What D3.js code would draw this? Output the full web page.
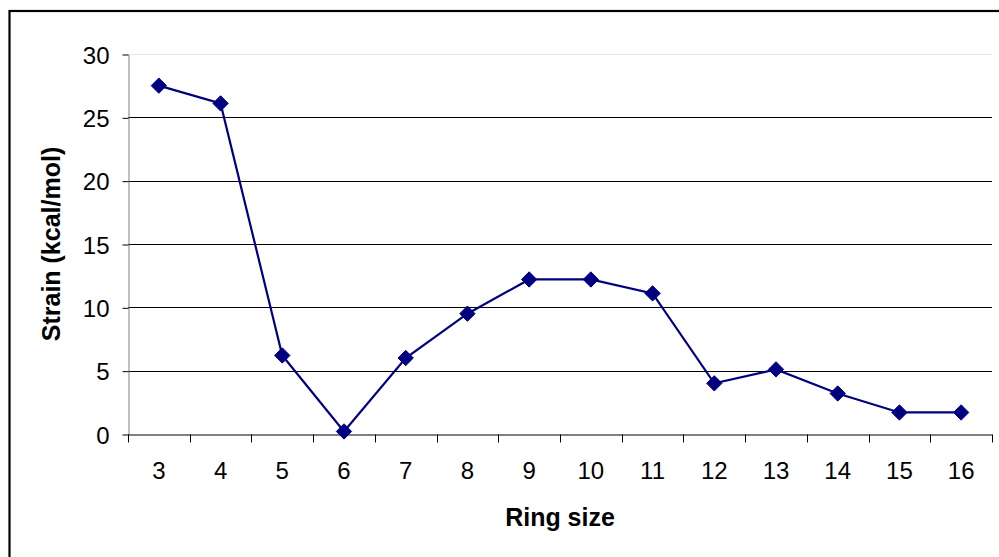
<!DOCTYPE html>
<html>
<head>
<meta charset="utf-8">
<script src="https://cdn.jsdelivr.net/npm/d3@7"></script>
<style>
  html, body { margin: 0; padding: 0; background: #fff; }
  svg { display: block; }
  text { font-family: "Liberation Sans", Arial, sans-serif; fill: #000; }
</style>
</head>
<body>
<svg id="chart" width="999" height="557"></svg>
<script>
const ringSizes = ["3","4","5","6","7","8","9","10","11","12","13","14","15","16"];
const strainValues = [27.5, 26.1, 6.2, 0.2, 6.0, 9.5, 12.2, 12.2, 11.1, 4.0, 5.1, 3.2, 1.7, 1.7];
const yTickValues = [0, 5, 10, 15, 20, 25, 30];
const xTitle = "Ring size";
const yTitle = "Strain (kcal/mol)";

const svg = d3.select("#chart");
const W = 999, H = 557;
const plot = { left: 128, right: 992, top: 54, bottom: 434 };

svg.append("rect").attr("x", 0).attr("y", 0).attr("width", W).attr("height", H).attr("fill", "#fff");
// outer chart border
svg.append("rect").attr("x", 9.5).attr("y", 11).attr("width", 1000).attr("height", 600)
  .attr("fill", "none").attr("stroke", "#000").attr("stroke-width", 2.2);

const x = d3.scaleBand().domain(ringSizes).range([plot.left, plot.right]).padding(0);
const y = d3.scaleLinear().domain([0, 30]).range([plot.bottom, plot.top]);

// gridlines
svg.append("g").selectAll("line").data(yTickValues.filter(v => v > 0)).join("line")
  .attr("x1", plot.left).attr("x2", plot.right)
  .attr("y1", d => Math.round(y(d)) + 0.5).attr("y2", d => Math.round(y(d)) + 0.5)
  .attr("stroke", d => d === 30 ? "#e6e6e6" : "#000").attr("stroke-width", 1);

// y axis
const yAxis = svg.append("g").attr("transform", `translate(${plot.left + 0.5},0.5)`)
  .call(d3.axisLeft(y).tickValues(yTickValues).tickSize(6).tickPadding(13).tickSizeOuter(0));
yAxis.select(".domain").attr("stroke", "#808080").attr("stroke-width", 1);
yAxis.selectAll(".tick line").attr("stroke", "#000");
yAxis.selectAll(".tick text").attr("font-size", 24).attr("font-family", "Liberation Sans, Arial, sans-serif").attr("fill", "#000").attr("dy", "0.36em");

// x axis
const xAxis = svg.append("g").attr("transform", `translate(0,${plot.bottom + 0.5})`)
  .call(d3.axisBottom(x).tickSize(0).tickPadding(27).tickSizeOuter(0));
xAxis.select(".domain").attr("stroke", "#000").attr("stroke-width", 1);
xAxis.selectAll(".tick text").attr("font-size", 24).attr("font-family", "Liberation Sans, Arial, sans-serif").attr("fill", "#000").attr("dy", "0.71em");
const bounds = ringSizes.map(c => x(c)).concat([x.range()[1]]);
xAxis.append("g").selectAll("line").data(bounds).join("line")
  .attr("x1", d => Math.round(d) + 0.5).attr("x2", d => Math.round(d) + 0.5)
  .attr("y1", 0).attr("y2", 8).attr("stroke", "#000");

// line
const cx = d => x(d) + x.bandwidth() / 2;
const pts = ringSizes.map((c, i) => [cx(c), y(strainValues[i])]);
svg.append("path").datum(pts)
  .attr("d", d3.line())
  .attr("fill", "none").attr("stroke", "#000080").attr("stroke-width", 2.2);

svg.append("g").selectAll("path").data(pts).join("path")
  .attr("transform", d => `translate(${d[0]},${d[1]})`)
  .attr("d", d3.symbol(d3.symbolDiamond2, 150)())
  .attr("fill", "#000080").attr("stroke", "#000080").attr("stroke-width", 1);

// titles
svg.append("text").attr("x", (plot.left + plot.right) / 2 - 0).attr("y", 526)
  .attr("text-anchor", "middle").attr("font-size", 25).attr("font-weight", "bold").text(xTitle);
svg.append("text").attr("transform", `translate(60,${(plot.top + plot.bottom) / 2}) rotate(-90)`)
  .attr("text-anchor", "middle").attr("font-size", 25).attr("font-weight", "bold").text(yTitle);
</script>
</body>
</html>
